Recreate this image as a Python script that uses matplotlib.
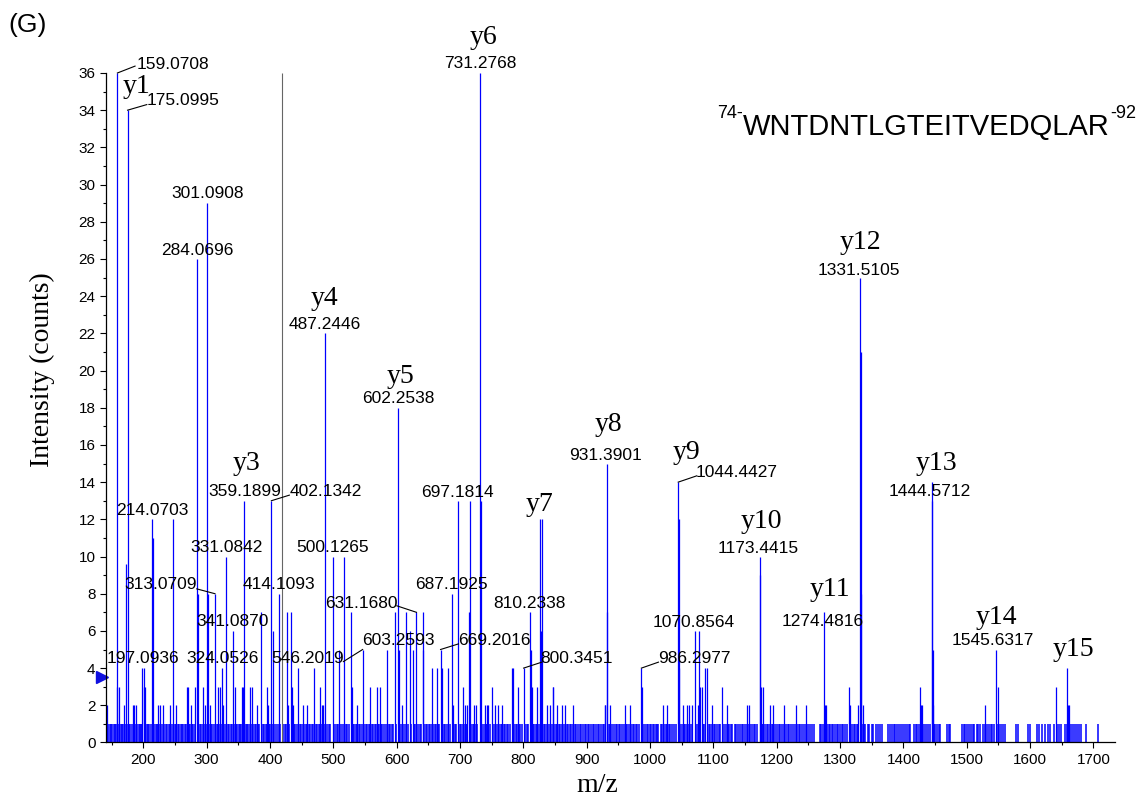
import matplotlib.pyplot as plt
from matplotlib.ticker import MultipleLocator
import matplotlib.transforms as mtransforms

# ── Spectrum: low-level noise lines (intensity 1) ─────────────────────────────
noise_mz = [
    142.3, 144.1, 146.8, 148.2, 150.9, 153.4, 155.0, 157.1, 162.3, 164.2, 166.5, 168.1,
    170.4, 173.6, 177.8, 179.6, 182.0, 184.7, 187.3, 189.9, 192.4, 194.1, 196.0, 198.3,
    202.6, 205.1, 207.4, 209.0, 211.7, 217.3, 219.6, 221.2, 223.9, 226.5, 228.1, 230.8,
    233.0, 235.6, 237.2, 239.9, 242.3, 244.8, 249.5, 251.7, 254.0, 256.3, 258.9, 260.4,
    263.1, 265.6, 267.2, 269.8, 272.5, 274.3, 276.9, 279.0, 281.4, 286.9, 289.3, 291.6,
    293.8, 296.2, 298.7, 303.9, 306.4, 308.8, 311.2, 315.6, 317.9, 320.3, 322.7, 325.8,
    327.9, 330.0, 333.4, 335.7, 338.1, 340.0, 343.2, 345.5, 347.8, 350.3, 352.6, 354.9,
    357.1, 361.4, 363.7, 366.0, 368.5, 370.8, 373.1, 375.6, 377.9, 380.4, 383.1, 388.2,
    390.5, 392.9, 395.3, 397.6, 399.8, 404.7, 407.0, 409.5, 411.9, 416.5, 420.8, 423.1,
    425.5, 430.6, 434.9, 437.3, 439.6, 442.0, 446.8, 449.2, 451.5, 453.9, 456.2, 458.6,
    461.0, 463.4, 465.8, 468.1, 472.4, 474.8, 477.3, 479.6, 482.1, 484.5, 490.3, 492.6,
    495.0, 502.4, 505.2, 507.6, 512.3, 514.7, 519.8, 522.1, 524.5, 530.7, 533.0, 535.4,
    537.9, 540.2, 542.6, 544.8, 549.0, 551.4, 553.8, 556.1, 558.5, 560.9, 563.3, 565.6,
    568.0, 570.4, 572.7, 575.1, 577.5, 579.9, 582.3, 587.6, 590.0, 592.4, 594.8, 599.5,
    605.4, 607.8, 610.1, 612.5, 617.3, 623.0, 627.6, 629.4, 633.9, 636.2, 638.5, 643.2,
    645.5, 647.9, 650.3, 652.7, 655.0, 657.4, 659.8, 662.1, 664.5, 666.9, 671.7, 674.0,
    676.4, 678.8, 683.5, 689.3, 691.6, 693.9, 699.6, 702.0, 704.4, 706.8, 709.2, 711.6,
    717.8, 720.2, 722.5, 724.9, 727.3, 735.4, 737.8, 740.2, 742.5, 744.9, 747.3, 752.0,
    754.4, 756.8, 759.2, 761.5, 763.9, 766.3, 768.7, 771.0, 773.4, 775.8, 778.2, 785.3,
    787.7, 790.1, 792.5, 794.8, 797.2, 803.0, 805.4, 807.8, 812.6, 815.0, 817.4, 819.8,
    822.1, 824.5, 832.4, 834.8, 837.2, 839.6, 842.0, 844.4, 848.8, 851.2, 853.6, 856.0,
    858.4, 860.8, 863.2, 865.6, 868.3, 870.9, 873.5, 875.8, 878.4, 881.0, 883.1, 886.0,
    888.7, 891.2, 893.6, 896.5, 899.0, 901.9, 904.3, 906.6, 909.5, 912.1, 914.4, 917.3,
    919.6, 922.5, 925.1, 927.6, 934.6, 937.3, 940.1, 942.5, 945.6, 948.0, 950.7, 953.3,
    956.2, 958.5, 961.6, 964.2, 966.8, 969.9, 972.3, 975.0, 977.8, 980.1, 982.7, 989.5,
    991.9, 994.6, 997.3, 999.8, 1001.3, 1003.9, 1006.0, 1008.8, 1011.5, 1013.2, 1016.7,
    1019.1, 1021.4, 1024.6, 1026.3, 1029.8, 1032.0, 1034.5, 1037.9, 1040.2, 1047.8,
    1050.3, 1052.9, 1055.1, 1058.4, 1060.7, 1063.0, 1065.6, 1073.2, 1075.6, 1082.9,
    1085.1, 1092.7, 1095.2, 1097.8, 1100.4, 1102.9, 1105.7, 1108.1, 1110.6, 1117.3,
    1119.8, 1122.4, 1125.0, 1127.7, 1130.1, 1133.5, 1136.2, 1138.8, 1141.4, 1144.9,
    1147.3, 1150.0, 1152.6, 1155.8, 1158.3, 1161.0, 1163.7, 1166.2, 1168.8, 1176.0,
    1178.6, 1181.3, 1184.0, 1186.9, 1189.5, 1192.1, 1194.8, 1197.6, 1200.3, 1203.1,
    1205.6, 1208.4, 1212.0, 1214.7, 1217.5, 1220.1, 1222.9, 1226.4, 1229.0, 1231.7,
    1234.5, 1237.1, 1240.0, 1242.6, 1246.2, 1249.0, 1252.8, 1255.4, 1258.9, 1268.3,
    1270.6, 1272.9, 1277.4, 1279.8, 1282.1, 1284.6, 1287.0, 1289.5, 1292.2, 1294.8,
    1297.3, 1299.9, 1302.4, 1305.0, 1307.6, 1310.2, 1316.4, 1318.9, 1321.5, 1324.3,
    1326.8, 1329.0, 1334.6, 1337.2, 1340.0, 1343.4, 1346.1, 1349.7, 1352.3, 1356.0,
    1359.6, 1362.4, 1365.7, 1376.3, 1378.5, 1381.4, 1384.6, 1387.2, 1390.0, 1393.5,
    1396.1, 1399.4, 1402.0, 1405.3, 1408.6, 1410.2, 1416.5, 1419.3, 1422.0, 1424.6,
    1429.8, 1432.4, 1435.1, 1438.0, 1441.2, 1447.6, 1450.3, 1453.1, 1455.8, 1458.4,
    1468.7, 1471.5, 1474.0, 1492.3, 1495.0, 1497.8, 1500.9, 1503.4, 1506.2, 1509.5,
    1512.1, 1515.4, 1518.2, 1521.0, 1526.3, 1529.0, 1531.8, 1534.5, 1537.6, 1540.2,
    1543.0, 1548.0, 1551.3, 1554.6, 1557.2, 1560.0, 1578.4, 1581.0, 1597.2, 1599.3,
    1610.4, 1614.8, 1619.5, 1624.0, 1628.2, 1630.6, 1638.2, 1641.8, 1645.3, 1649.0,
    1655.6, 1658.9, 1661.7, 1664.3, 1667.5, 1671.0, 1674.2, 1677.6, 1680.1, 1688.0,
    1707.2,
]

# ── Spectrum: peaks above the noise ───────────────────────────────────────────
peak_mz = [
    142.1, 157.9, 159.0708, 161.0, 169.5, 172.0, 175.0995, 183.2, 185.3, 187.9,
    197.0936, 200.3, 201.4, 202.6, 214.0703, 215.2, 222.6, 226.3, 230.5, 242.1,
    247.4, 251.6, 268.4, 271.0, 274.7, 281.6, 284.0696, 286.2, 294.7, 297.4,
    301.0908, 302.6, 305.3, 313.0709, 318.4, 321.0, 324.0526, 326.3, 331.0842,
    341.0870, 344.7, 355.3, 357.9, 359.1899, 368.4, 371.0, 378.9, 385.8, 394.7,
    397.4, 402.1342, 404.0, 414.1093, 427.5, 429.0, 432.6, 434.2, 436.8, 444.7,
    452.6, 457.9, 470.0, 479.0, 481.6, 484.2, 487.2446, 500.1265, 509.5, 517.4,
    528.0, 528.9, 536.8, 546.2019, 557.9, 568.4, 573.7, 585.3, 596.6, 602.2538,
    603.2593, 607.9, 614.8, 621.0, 625.0, 631.1680, 640.8, 642.1, 655.3, 663.2,
    669.2016, 670.9, 681.0, 687.1925, 689.3, 697.1814, 705.1, 707.7, 710.4,
    714.8, 716.3, 721.9, 725.1, 731.2768, 733.0, 739.3, 742.0, 744.6, 749.8,
    755.1, 760.4, 765.6, 781.6, 783.6, 792.0, 800.3451, 810.2338, 811.5, 813.0,
    820.9, 826.6, 828.2, 829.9, 836.7, 841.9, 846.4, 847.2, 852.5, 860.4, 865.6,
    878.8, 928.8, 929.6, 931.3901, 932.6, 936.8, 960.5, 968.4, 986.2977, 987.6,
    1020.0, 1026.3, 1044.4427, 1045.6, 1046.3, 1052.6, 1057.9, 1062.1, 1065.8,
    1070.8564, 1076.3, 1078.0, 1079.2, 1081.6, 1087.2, 1089.3, 1097.4, 1113.4,
    1121.0, 1152.6, 1156.8, 1173.4415, 1174.3, 1175.3, 1177.9, 1189.5, 1194.8,
    1212.1, 1230.5, 1246.3, 1274.4816, 1275.5, 1277.9, 1314.6, 1315.8, 1329.0,
    1331.5105, 1332.3, 1333.0, 1335.8, 1426.5, 1427.8, 1429.0, 1444.5712, 1445.5,
    1446.4, 1447.4, 1528.7, 1545.6317, 1548.5, 1641.0, 1658.2, 1659.8, 1661.0,
]
peak_int = [
    2, 3, 36, 3, 2, 9.6, 34, 2, 2, 2,
    4, 4, 3, 3, 12, 11, 2, 2, 2, 2,
    12, 2, 3, 3, 2, 3, 26, 8, 3, 2,
    29, 8, 2, 8, 3, 3, 4, 2, 10,
    6, 3, 3, 3, 13, 3, 3, 2, 7, 3,
    2, 13, 6, 8, 7, 2, 7, 3, 2, 4,
    2, 2, 4, 3, 2, 2, 22, 10, 5, 10,
    7, 3, 2, 5, 3, 3, 3, 5, 7, 18,
    5, 2, 7, 6, 5, 7, 7, 5, 4, 4,
    5, 4, 4, 8, 2, 13, 3, 2, 2,
    7, 13, 2, 2, 36, 13, 2, 2, 2, 3,
    2, 2, 2, 4, 4, 3, 4, 7, 5, 3,
    3, 12, 6, 12, 2, 2, 3, 3, 2, 2, 2,
    2, 2, 2, 15, 7, 2, 2, 2, 4, 3,
    2, 2, 14, 12, 4, 2, 2, 2, 2,
    6, 2, 6, 3, 3, 4, 4, 2, 3,
    2, 2, 2, 10, 9, 3, 3, 2, 2,
    2, 2, 2, 7, 2, 2, 3, 2, 2,
    25, 21, 8, 2, 3, 2, 2, 14, 13,
    5, 2, 2, 5, 3, 3, 4, 2, 2,
]

precursor_mz = 418.6
threshold = 3.5

# ── Annotations ───────────────────────────────────────────────────────────────
ion_names = ["y1", "y3", "y4", "y5", "y6", "y7", "y8", "y9", "y10", "y11",
             "y12", "y13", "y14", "y15"]
ion_x = [189.6, 363.3, 485.3, 605.3, 736.4, 825.3, 934.2, 1058.0, 1175.4, 1284.3,
         1331.7, 1452.8, 1546.1, 1668.5]
ion_y = [35.3, 15.0, 23.9, 19.7, 37.9, 12.8, 17.1, 15.6, 11.9, 8.2,
         26.9, 15.0, 6.7, 5.0]

mass_names = ["159.0708", "175.0995", "301.0908", "284.0696", "731.2768", "487.2446",
              "602.2538", "1331.5105", "931.3901", "1044.4427", "1444.5712",
              "359.1899", "402.1342", "697.1814", "214.0703", "1173.4415",
              "331.0842", "500.1265", "313.0709", "414.1093", "687.1925",
              "631.1680", "810.2338", "341.0870", "1070.8564", "1274.4816",
              "603.2593", "669.2016", "1545.6317", "197.0936", "324.0526",
              "546.2019", "800.3451", "986.2977"]
mass_x = [246.1, 263.2, 301.4, 284.8, 731.7, 486.9,
          602.2, 1330.1, 929.0, 1137.0, 1442.2,
          360.1, 487.4, 695.3, 214.5, 1170.2,
          331.7, 499.5, 227.6, 414.3, 686.3,
          544.2, 809.3, 341.3, 1068.5, 1272.5,
          602.2, 754.1, 1541.7, 198.7, 324.3,
          459.7, 884.3, 1069.9]
mass_y = [36.45, 34.5, 29.5, 26.45, 36.5, 22.45,
          18.5, 25.4, 15.45, 14.5, 13.5,
          13.5, 13.5, 13.45, 12.45, 10.45,
          10.5, 10.5, 8.5, 8.5, 8.5,
          7.45, 7.5, 6.5, 6.45, 6.5,
          5.5, 5.5, 5.5, 4.5, 4.5,
          4.5, 4.5, 4.5]

# leader lines run from a peak top to the left edge of its label
leader_peaks = [159.0708, 175.0995, 402.1342, 313.0709, 631.1680, 546.2019,
                669.2016, 800.3451, 986.2977, 1044.4427]
leader_x = [186.9, 205.4, 430.5, 284.3, 600.1, 515.8, 697.4, 829.1, 1013.2, 1073.8]
leader_y = [36.37, 34.3, 13.3, 8.26, 7.35, 4.35, 5.3, 4.32, 4.32, 14.34]

sequence = "WNTDNTLGTEITVEDQLAR"
seq_start, seq_end = "74-", "-92"

# ── Plot ──────────────────────────────────────────────────────────────────────
fig = plt.figure(figsize=(11.47, 8.02), dpi=100)
ax = fig.add_axes([0.0924, 0.0742, 0.8797, 0.8348])

blue = "#0000ff"
ax.vlines(noise_mz, 0, 1, colors=blue, linewidth=1.1)
ax.vlines(peak_mz, 0, peak_int, colors=blue, linewidth=0.9)
ax.vlines(precursor_mz, 0, 36, colors="#666666", linewidth=0.8)

ax.set_xlim(141, 1734)
ax.set_ylim(0, 36)

for side in ["top", "right"]:
    ax.spines[side].set_visible(False)
for side in ["left", "bottom"]:
    ax.spines[side].set_linewidth(0.9)

ax.xaxis.set_major_locator(MultipleLocator(100))
ax.xaxis.set_minor_locator(MultipleLocator(50))
ax.yaxis.set_major_locator(MultipleLocator(2))
ax.yaxis.set_minor_locator(MultipleLocator(1))
ax.tick_params(which="major", direction="out", length=4.5, width=0.8,
               labelsize=11, pad=3)
ax.tick_params(which="minor", direction="out", length=2.4, width=0.8)
for lab in ax.get_xticklabels() + ax.get_yticklabels():
    lab.set_family("Liberation Sans")

# intensity threshold marker on the y axis
trans = mtransforms.blended_transform_factory(ax.transAxes, ax.transData)
ax.plot([-0.004], [threshold], marker=">", markersize=8, color="#1010e0",
        transform=trans, clip_on=False)

for name, x, y in zip(ion_names, ion_x, ion_y):
    ax.text(x, y, name, fontsize=20, family="Liberation Serif",
            ha="center", va="center", clip_on=False)

for name, x, y in zip(mass_names, mass_x, mass_y):
    ax.text(x, y, name, fontsize=12.5, family="Liberation Sans",
            ha="center", va="center", clip_on=False)

peak_height = dict(zip(peak_mz, peak_int))
for mz, x, y in zip(leader_peaks, leader_x, leader_y):
    ax.plot([mz, x], [peak_height[mz], y], color="black", linewidth=0.8,
            clip_on=False)

fig.text(42 / 1147, 1 - 370 / 802, "Intensity (counts)", rotation=90,
         fontsize=20, family="Liberation Serif", ha="center", va="center")
fig.text(597 / 1147, 1 - 785 / 802, "m/z", fontsize=20,
         family="Liberation Serif", ha="center", va="center")
fig.text(28 / 1147, 1 - 25 / 802, "(G)", fontsize=19,
         family="Liberation Sans", ha="center", va="center")

# peptide sequence with superscript residue numbers
fig.canvas.draw()
renderer = fig.canvas.get_renderer()
end_txt = fig.text(1136 / 1147, 1 - 118 / 802, seq_end, fontsize=13,
                   family="Liberation Sans", ha="right", va="baseline")
end_box = end_txt.get_window_extent(renderer)
seq_txt = fig.text(end_box.x0 / 1147, 1 - 135 / 802, sequence, fontsize=21,
                   family="Liberation Sans", ha="right", va="baseline")
seq_box = seq_txt.get_window_extent(renderer)
fig.text(seq_box.x0 / 1147, 1 - 118 / 802, seq_start, fontsize=13,
         family="Liberation Sans", ha="right", va="baseline")

fig.savefig("out.png", dpi=100)
